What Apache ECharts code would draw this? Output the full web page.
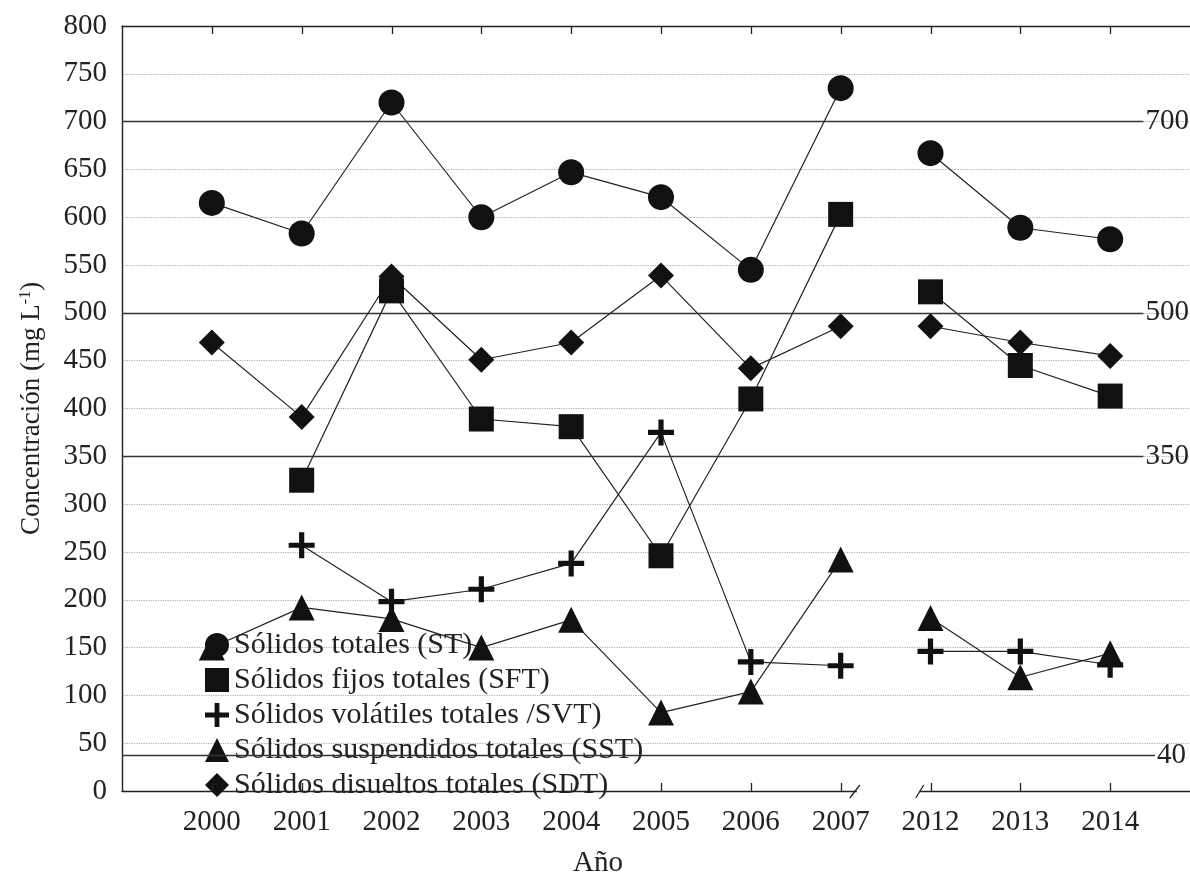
<!DOCTYPE html>
<html>
<head>
<meta charset="utf-8">
<script src="https://cdn.jsdelivr.net/npm/echarts@6/dist/echarts.min.js"></script>
<style>
  html, body { margin: 0; padding: 0; background: #fff; }
  #chart { width: 1190px; height: 881px; }
</style>
</head>
<body>
<div id="chart"></div>
<script>
// years on the x axis (positions 1..11, break between 2007 and 2012)
var years = ["2000", "2001", "2002", "2003", "2004", "2005", "2006", "2007", "2012", "2013", "2014"];

var ST  = [615, 583, 720, 600, 647, 621, 545, 735, 667, 589, 577];
var SFT = [null, 325, 523, 389, 381, 246, 410, 603, 522, 445, 413];
var SVT = [null, 257, 198, 211, 238, 375, 135, 131, 146, 146, 132];
var SST = [150, 192, 180, 150, 179, 82, 104, 242, 181, 119, 144];
var SDT = [469, 391, 538, 451, 469, 539, 442, 486, 486, 469, 455];

// horizontal reference lines and their right-hand labels
var refValues = [700, 500, 350, 37];
var refLabels = ["700", "500", "350", "40"];
var refEnds = [11.37, 11.37, 11.37, 11.5];

var FONT = "Liberation Serif";
var plusPath = "path://M-1,-5H1V-1H5V1H1V5H-1V1H-5V-1H-1Z";

var names = [
  "Sólidos totales (ST)",
  "Sólidos fijos totales (SFT)",
  "Sólidos volátiles totales /SVT)",
  "Sólidos suspendidos totales (SST)",
  "Sólidos disueltos totales (SDT)"
];
var symbols = ["circle", "rect", plusPath, "triangle", "diamond"];
var sizes = [26, 25, 26, 26, 26];
var values = [ST, SFT, SVT, SST, SDT];

var myChart = echarts.init(document.getElementById("chart"));

// one series per segment so the line does not cross the axis break
var series = [];
for (let i = 0; i < names.length; i++) {
  var before = [], after = [];
  for (let j = 0; j < years.length; j++) {
    if (values[i][j] == null) continue;
    if (j < 8) before.push([j + 1, values[i][j]]);
    else after.push([j + 1, values[i][j]]);
  }
  [before, after].forEach(function(seg) {
    series.push({
      name: names[i],
      type: "line",
      data: seg,
      symbol: symbols[i],
      symbolSize: sizes[i],
      itemStyle: { color: "#111" },
      lineStyle: { color: "#222", width: 1.2 },
      animation: false,
      z: 3
    });
  });
}

series[0].markLine = {
  silent: true,
  symbol: "none",
  animation: false,
  lineStyle: { color: "#333", width: 1.4, type: "solid" },
  label: {
    show: true,
    position: "end",
    distance: 2,
    formatter: "{b}",
    color: "#222",
    fontFamily: FONT,
    fontSize: 29
  },
  data: refValues.map(function(v, k) {
    return [{ coord: [0, v], name: refLabels[k] }, { coord: [refEnds[k], v] }];
  })
};

var option = {
  backgroundColor: "#fff",
  textStyle: { fontFamily: FONT },
  grid: { left: 122, top: 26, right: -10, bottom: 90, outerBoundsMode: "none", containLabel: false },
  legend: {
    orient: "vertical",
    left: 200,
    top: 625,
    itemWidth: 24,
    itemHeight: 24,
    itemGap: 5,
    inactiveColor: "#111",
    textStyle: { fontFamily: FONT, fontSize: 30, lineHeight: 29, color: "#222" },
    data: names.map(function(n, k) {
      return { name: n, icon: symbols[k], itemStyle: { color: "#111" } };
    })
  },
  xAxis: [
    {
      type: "value",
      min: 0,
      max: 12,
      interval: 1,
      name: "Año",
      nameLocation: "middle",
      nameGap: 58,
      nameTextStyle: { fontFamily: FONT, fontSize: 29, color: "#222", padding: [0, 126, 0, 0] },
      axisLine: { show: true, onZero: false, lineStyle: { color: "#222", width: 1.4 } },
      axisTick: { show: false },
      axisLabel: {
        fontFamily: FONT,
        fontSize: 29,
        color: "#222",
        margin: 17,
        formatter: function(v) { return years[v - 1] || ""; }
      },
      splitLine: { show: false }
    },
    {
      type: "value",
      position: "top",
      min: 0,
      max: 12,
      interval: 1,
      axisLine: { show: true, onZero: false, lineStyle: { color: "#222", width: 1.4 } },
      axisTick: { show: false },
      axisLabel: { show: false },
      splitLine: { show: false }
    }
  ],
  yAxis: {
    type: "value",
    min: 0,
    max: 800,
    interval: 50,
    name: "Concentración (mg L{sup|-1})",
    nameLocation: "middle",
    nameGap: 76,
    nameTextStyle: {
      fontFamily: FONT,
      fontSize: 27,
      color: "#222",
      rich: {
        sup: { fontFamily: FONT, fontSize: 16, color: "#222", verticalAlign: "top", padding: [0, 0, 12, 0] }
      }
    },
    axisLine: { show: true, lineStyle: { color: "#222", width: 1.4 } },
    axisTick: { show: false },
    axisLabel: { fontFamily: FONT, fontSize: 29, color: "#222", margin: 15 },
    splitLine: { show: true, lineStyle: { color: "#aaa", type: "dotted", width: 1.2 } }
  },
  series: series
};

myChart.setOption(option);

// tick marks at each year (bottom pointing up, top pointing down) and the axis break
var ya = myChart.convertToPixel({ yAxisIndex: 0 }, 0);
var yt = myChart.convertToPixel({ yAxisIndex: 0 }, 800);
var graphics = [];
years.forEach(function(y, j) {
  var x = Math.round(myChart.convertToPixel({ xAxisIndex: 0 }, j + 1)) + 0.5;
  graphics.push({ type: "line", shape: { x1: x, y1: ya, x2: x, y2: ya - 8 }, style: { stroke: "#222", lineWidth: 1.3 }, z: 50 });
  graphics.push({ type: "line", shape: { x1: x, y1: yt, x2: x, y2: yt + 8 }, style: { stroke: "#222", lineWidth: 1.3 }, z: 50 });
});
var xa = myChart.convertToPixel({ xAxisIndex: 0 }, 8.18);
var xb = myChart.convertToPixel({ xAxisIndex: 0 }, 8.88);
graphics.push(
  { type: "rect", shape: { x: xa, y: ya - 4, width: xb - xa, height: 8 }, style: { fill: "#fff" }, z: 100 },
  { type: "line", shape: { x1: xa - 7, y1: ya + 7, x2: xa + 3, y2: ya - 6 }, style: { stroke: "#222", lineWidth: 1.3 }, z: 101 },
  { type: "line", shape: { x1: xb - 4, y1: ya + 7, x2: xb + 4, y2: ya - 6 }, style: { stroke: "#222", lineWidth: 1.3 }, z: 101 }
);
myChart.setOption({ graphic: graphics });
</script>
</body>
</html>
